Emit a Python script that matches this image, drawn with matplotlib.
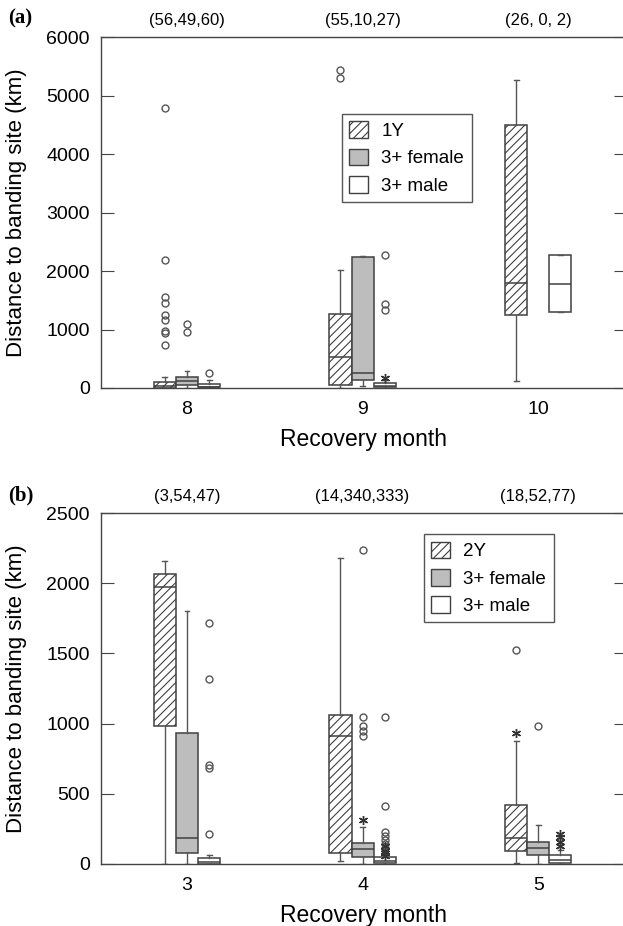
import matplotlib
matplotlib.use('Agg')
import matplotlib.pyplot as plt
from matplotlib.patches import Patch

plt.rcParams['font.family'] = ['Liberation Sans', 'DejaVu Sans']
plt.rcParams['hatch.linewidth'] = 0.8

# ---------------- Panel (a) ----------------
months_a = ["8", "9", "10"]
counts_a = ["(56,49,60)", "(55,10,27)", "(26, 0, 2)"]
groups_a = ["1Y", "3+ female", "3+ male"]
# per month: [whislo, q1, median, q3, whishi]; None = no birds
a_1y = [[0, 0, 40, 110, 180], [0, 50, 535, 1265, 2020], [125, 1250, 1790, 4500, 5270]]
a_fem = [[0, 50, 125, 185, 285], [40, 135, 250, 2235, 2260], None]
a_male = [[0, 10, 25, 60, 130], [0, 10, 30, 90, 130], [1295, 1295, 1780, 2265, 2265]]
a_1y_out = [[4780, 2190, 1560, 1450, 1250, 1160, 980, 940, 740], [5440, 5300], []]
a_fem_out = [[1090, 960], [], []]
a_male_out = [[250], [2280, 1430, 1330], []]
a_1y_ext = [[], [], []]
a_fem_ext = [[], [], []]
a_male_ext = [[], [170], []]

# ---------------- Panel (b) ----------------
months_b = ["3", "4", "5"]
counts_b = ["(3,54,47)", "(14,340,333)", "(18,52,77)"]
groups_b = ["2Y", "3+ female", "3+ male"]
b_2y = [[0, 985, 1975, 2065, 2155], [20, 80, 915, 1060, 2180], [7, 90, 185, 420, 875]]
b_fem = [[0, 80, 185, 935, 1805], [0, 50, 110, 150, 260], [0, 65, 115, 155, 275]]
b_male = [[0, 3, 15, 43, 66], [0, 7, 20, 50, 100], [0, 7, 25, 65, 100]]
b_2y_out = [[], [], [1526]]
b_fem_out = [[], [2235, 1050, 980, 945, 910], [985]]
b_male_out = [[1720, 1320, 705, 685, 215], [1050, 410, 230, 200, 170, 140, 115], []]
b_2y_ext = [[], [], [935]]
b_fem_ext = [[], [310], []]
b_male_ext = [[], [125, 95, 80, 60], [215, 190, 160, 130]]

EDGE = '#404040'
W = 0.126
styles = [dict(facecolor='white', hatch='////'),
          dict(facecolor='#bdbdbd', hatch=None),
          dict(facecolor='white', hatch=None)]


def draw_panel(ax, months, counts, labels, boxes, outs, exts, ymax, yticks, legend_anchor):
    offsets = [-W, 0, W]
    for g in range(3):
        stats, pos = [], []
        for m in range(3):
            b = boxes[g][m]
            if b is None:
                continue
            stats.append(dict(whislo=b[0], q1=b[1], med=b[2], q3=b[3], whishi=b[4],
                              fliers=outs[g][m]))
            pos.append(m + 1 + offsets[g])
        art = ax.bxp(stats, positions=pos, widths=W, patch_artist=True, showfliers=True,
                     manage_ticks=False, capwidths=W * 0.22,
                     boxprops=dict(edgecolor=EDGE, linewidth=1.1),
                     whiskerprops=dict(color='#555555', linewidth=1.0),
                     capprops=dict(color='#555555', linewidth=1.0),
                     medianprops=dict(color=EDGE, linewidth=1.1),
                     flierprops=dict(marker='o', markersize=5, markerfacecolor='none',
                                     markeredgecolor='#555555', markeredgewidth=1.0))
        for p in art['boxes']:
            p.set_facecolor(styles[g]['facecolor'])
            if styles[g]['hatch']:
                p.set_hatch(styles[g]['hatch'])
        for m in range(3):
            if exts[g][m]:
                ax.plot([m + 1 + offsets[g]] * len(exts[g][m]), exts[g][m], linestyle='none',
                        marker=(6, 2, 0), markersize=6.5, color='#333333', markeredgewidth=1.0)
    ax.set_xlim(0.51, 3.5)
    ax.set_ylim(0, ymax)
    ax.set_yticks(yticks)
    ax.set_xticks([1, 2, 3])
    ax.set_xticklabels(months)
    ax.tick_params(axis='y', direction='in', length=9, left=True, right=True,
                   labelsize=14, pad=8, color='#444444')
    ax.tick_params(axis='x', length=0, labelsize=14, pad=9)
    for s in ax.spines.values():
        s.set_color('#444444')
        s.set_linewidth(1.0)
    for m in range(3):
        ax.text(m + 1, 1.048, counts[m], transform=ax.get_xaxis_transform(),
                ha='center', va='center', fontsize=12)
    ax.set_xlabel('Recovery month', fontsize=16.5)
    ax.xaxis.set_label_coords(0.5, -0.115)
    ax.set_ylabel('Distance to banding site (km)', fontsize=16)
    ax.yaxis.set_label_coords(-0.141, 0.5)
    handles = [Patch(facecolor='white', edgecolor=EDGE, hatch='////'),
               Patch(facecolor='#bdbdbd', edgecolor=EDGE),
               Patch(facecolor='white', edgecolor=EDGE)]
    leg = ax.legend(handles, labels, loc='upper left', bbox_to_anchor=legend_anchor,
                    borderaxespad=0, fontsize=13.5, fancybox=False, handlelength=1.0,
                    handleheight=1.0, labelspacing=0.45, handletextpad=0.7, borderpad=0.4,
                    framealpha=1)
    leg.get_frame().set_edgecolor('#555555')
    leg.get_frame().set_linewidth(1.0)


fig = plt.figure(figsize=(6.23, 9.26), dpi=100)
ax_a = fig.add_axes([101 / 623, 1 - 388 / 926, 525 / 623, 351 / 926])
ax_b = fig.add_axes([101 / 623, 1 - 864 / 926, 525 / 623, 351 / 926])

draw_panel(ax_a, months_a, counts_a, groups_a, [a_1y, a_fem, a_male],
           [a_1y_out, a_fem_out, a_male_out], [a_1y_ext, a_fem_ext, a_male_ext],
           6000, [0, 1000, 2000, 3000, 4000, 5000, 6000], (0.459, 0.781))
draw_panel(ax_b, months_b, counts_b, groups_b, [b_2y, b_fem, b_male],
           [b_2y_out, b_fem_out, b_male_out], [b_2y_ext, b_fem_ext, b_male_ext],
           2500, [0, 500, 1000, 1500, 2000, 2500], (0.615, 0.94))

fig.text(8 / 623, 1 - 18 / 926, '(a)', family='Liberation Serif', fontweight='bold',
         fontsize=15, va='center', ha='left')
fig.text(8 / 623, 1 - 495 / 926, '(b)', family='Liberation Serif', fontweight='bold',
         fontsize=15, va='center', ha='left')

fig.savefig('out.png', dpi=100)
